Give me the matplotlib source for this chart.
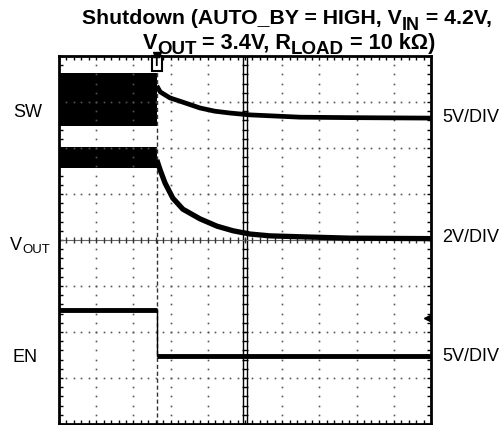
import matplotlib
matplotlib.use("Agg")
import matplotlib.pyplot as plt
import numpy as np

plt.rcParams['font.family'] = ['Liberation Sans', 'DejaVu Sans']

# ---- data (x in horizontal divisions 0..10, y in vertical divisions 0..8) ----
trigger_x = 2.63

sw_pre_top = 7.62
sw_pre_bottom = 6.48
sw_post_x = [2.63, 2.72, 2.98, 3.39, 3.79, 4.19, 4.60, 5.13, 6.48, 7.82, 10.0]
sw_post_y = [7.35, 7.22, 7.09, 6.98, 6.87, 6.80, 6.76, 6.72, 6.67, 6.66, 6.65]

vout_pre_top = 6.02
vout_pre_bottom = 5.57
vout_post_x = [2.63, 2.72, 2.85, 3.06, 3.33, 3.79, 4.25, 4.68, 5.13, 5.67, 6.48, 7.82, 10.0]
vout_post_y = [5.74, 5.52, 5.24, 4.91, 4.67, 4.46, 4.30, 4.20, 4.13, 4.09, 4.07, 4.04, 4.03]

en_x = [0.0, 2.63, 2.63, 10.0]
en_y = [2.48, 2.48, 1.48, 1.48]

right_labels = ["5V/DIV", "2V/DIV", "5V/DIV"]
right_label_y = [6.67, 4.06, 1.47]

# ---- figure ----
W, H = 502, 425
fig = plt.figure(figsize=(W / 100, H / 100), dpi=100)
ax = fig.add_axes([59 / W, 1 / H, 372 / W, 368 / H])
ax.set_xlim(0, 10)
ax.set_ylim(0, 8)

for s in ax.spines.values():
    s.set_linewidth(2.0)
    s.set_color('black')

ax.set_xticks(np.arange(0, 10.01, 1))
ax.set_yticks(np.arange(0, 8.01, 1))
ax.set_xticks(np.arange(0, 10.01, 0.2), minor=True)
ax.set_yticks(np.arange(0, 8.01, 0.2), minor=True)
ax.tick_params(which='both', direction='in', length=3, width=1, top=True, right=True,
               labelbottom=False, labelleft=False, color='black')

# dotted grid
minor_x = np.arange(0, 10.01, 0.2)
minor_y = np.arange(0, 8.01, 0.2)
for gy in range(1, 8):
    if gy == 4:
        continue
    ax.plot(minor_x, np.full_like(minor_x, gy), ls='none', marker='s', ms=1.2,
            color='#555555', mew=0)
for gx in range(1, 10):
    if gx == 5:
        continue
    ax.plot(np.full_like(minor_y, gx), minor_y, ls='none', marker='s', ms=1.2,
            color='#555555', mew=0)

# center crosshair
ax.axvline(4.95, color='black', lw=1.0)
ax.axvline(5.05, color='black', lw=1.0)
ax.plot(np.full_like(minor_y, 5.0), minor_y, ls='none', marker='_', ms=5, mew=1, color='black')
ax.axhline(4.0, color='#666666', lw=0.8)
ax.plot(minor_x, np.full_like(minor_x, 4.0), ls='none', marker='|', ms=5, mew=1, color='#333333')

# trigger dashed line
ax.plot([trigger_x, trigger_x], [0, 8], ls=(0, (3, 2)), color='#333333', lw=1.0)

# traces
ax.fill_between([0, trigger_x], [sw_pre_bottom] * 2, [sw_pre_top] * 2, color='black', lw=0)
ax.plot(sw_post_x, sw_post_y, color='black', lw=3.4, solid_capstyle='butt')
ax.fill_between([0, trigger_x], [vout_pre_bottom] * 2, [vout_pre_top] * 2, color='black', lw=0)
ax.plot(vout_post_x, vout_post_y, color='black', lw=3.8, solid_capstyle='butt')
ax.plot(en_x[:2], en_y[:2], color='black', lw=3.5, solid_capstyle='butt')
ax.plot(en_x[1:3], en_y[1:3], color='black', lw=1.0)
ax.plot(en_x[2:], en_y[2:], color='black', lw=3.5, solid_capstyle='butt')

# trigger marker
ax.text(trigger_x, 7.97, "T", ha='center', va='top', fontsize=9, fontweight='bold',
        color='black', bbox=dict(boxstyle='square,pad=0.12', fc='white', ec='black', lw=1.5))
ax.plot([trigger_x], [8.0], marker='v', ms=6, color='black', clip_on=False)

# level arrow marker at right
ax.plot([9.85, 10.0], [2.30, 2.30], color='black', lw=1)
ax.plot([9.88], [2.30], marker='<', ms=4, color='black')

renderer = fig.canvas.get_renderer()


def place_pieces(pieces, x_px, y_base_px, size, sub_size, sub_drop, weight, align):
    """pieces: list of (text, is_sub). Positions measured in pixels from top-left."""
    artists = []
    widths = []
    for txt, sub in pieces:
        t = fig.text(0, 0, txt, fontsize=sub_size if sub else size, fontweight=weight,
                     ha='left', va='baseline')
        ext = t.get_window_extent(renderer)
        artists.append((t, sub))
        widths.append(ext.width)
    total = sum(widths)
    if align == 'center':
        cur = x_px - total / 2
    else:
        cur = x_px
    for (t, sub), w in zip(artists, widths):
        yb = y_base_px + (sub_drop if sub else 0)
        t.set_position((cur / W, 1 - yb / H))
        cur += w


sp = "\u00a0"  # keep spaces measurable
# title
place_pieces([("Shutdown (AUTO_BY = HIGH, V", False), ("IN", True), (sp + "= 4.2V,", False)],
             287, 24, 15.3, 13, 6, 'bold', 'center')
place_pieces([("V", False), ("OUT", True), (sp + "= 3.4V, R", False), ("LOAD", True),
              (sp + "= 10 k\u03a9)", False)],
             289, 49, 15.6, 13.5, 5, 'bold', 'center')

# left labels
place_pieces([("SW", False)], 13, 117, 13, 10, 4, 'normal', 'left')
place_pieces([("V", False), ("OUT", True)], 10, 250, 13, 9.5, 3, 'normal', 'left')
place_pieces([("EN", False)], 13, 362, 13, 10, 4, 'normal', 'left')

for lab, yy in zip(right_labels, right_label_y):
    ax.text(10.3, yy, lab, ha='left', va='center', fontsize=13)

fig.savefig("out.png", dpi=100)
